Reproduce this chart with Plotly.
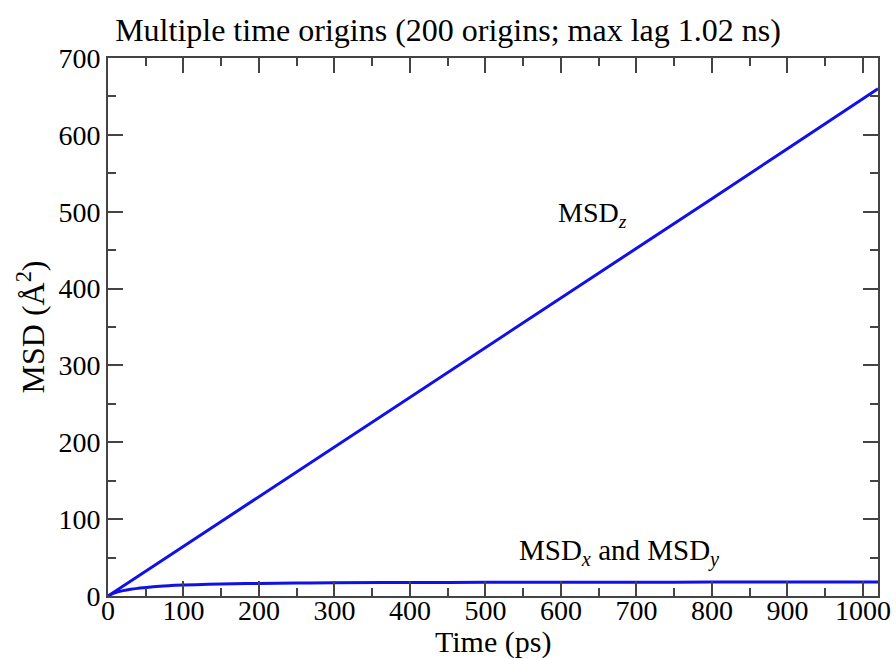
import plotly.graph_objects as go

# Lag time (ps) and mean squared displacement (Å^2)
time_z = [0, 100, 200, 300, 400, 500, 600, 700, 800, 900, 1000, 1020]
msd_z = [0, 64.5, 129, 194, 258, 323, 388, 452, 517, 582, 647, 660]

time_xy = [0, 5, 10, 20, 30, 40, 50, 60, 80, 100, 125, 150, 200, 250, 300, 400, 500, 600, 700, 800, 900, 1000, 1020]
msd_xy = [0, 2.5, 4.5, 7.0, 8.8, 10.0, 11.0, 12.0, 13.3, 14.2, 15.0, 15.6, 16.4, 16.9, 17.2, 17.6, 17.8, 18.0, 18.0, 18.1, 18.1, 18.1, 18.1]

x_ticks = [0, 100, 200, 300, 400, 500, 600, 700, 800, 900, 1000]
y_ticks = [0, 100, 200, 300, 400, 500, 600, 700]

FONT = "Liberation Serif"
BLUE = "#1010e8"
AXIS = "#444444"

fig = go.Figure()
fig.add_trace(go.Scatter(x=time_z, y=msd_z, mode="lines",
                         line=dict(color=BLUE, width=3), showlegend=False))
fig.add_trace(go.Scatter(x=time_xy, y=msd_xy, mode="lines",
                         line=dict(color=BLUE, width=3, shape="spline"), showlegend=False))

fig.add_annotation(x=642, y=496, text="MSD<sub><i>z</i></sub>", showarrow=False,
                   font=dict(family=FONT, size=28, color="black"))
fig.add_annotation(x=677, y=57, text="MSD<sub><i>x</i></sub> and MSD<sub><i>y</i></sub>",
                   showarrow=False, font=dict(family=FONT, size=29, color="black"))

# x-axis title placed below the tick labels
fig.add_annotation(x=0.5, y=-0.086, xref="paper", yref="paper", text="Time (ps)",
                   showarrow=False, yanchor="middle",
                   font=dict(family=FONT, size=30, color="black"))

axis_common = dict(
    showgrid=False, zeroline=False, showline=True, linecolor=AXIS, linewidth=2,
    ticks="inside", ticklen=15, tickwidth=2, tickcolor=AXIS, mirror="ticks",
    tickfont=dict(family=FONT, size=28, color="black"), automargin=False,
)

fig.update_xaxes(range=[0, 1020], tickvals=x_ticks, ticklabelstandoff=-12,
                 minor=dict(ticks="inside", ticklen=8, tickwidth=2, tickcolor=AXIS, dtick=50, tick0=0),
                 **axis_common)
fig.update_yaxes(range=[0, 700], tickvals=y_ticks,
                 minor=dict(ticks="inside", ticklen=8, tickwidth=2, tickcolor=AXIS, dtick=50, tick0=0),
                 title=dict(text="MSD (Å<sup>2</sup>)", font=dict(family=FONT, size=32, color="black"), standoff=4),
                 **axis_common)

fig.update_layout(
    width=896, height=659,
    margin=dict(l=108, r=18, t=58, b=63),
    paper_bgcolor="white", plot_bgcolor="white",
    title=dict(text="Multiple time origins (200 origins; max lag 1.02 ns)",
               x=0.5, xanchor="center", y=0.955, yanchor="middle",
               font=dict(family=FONT, size=32, color="black")),
)

fig.write_html("out.html")
